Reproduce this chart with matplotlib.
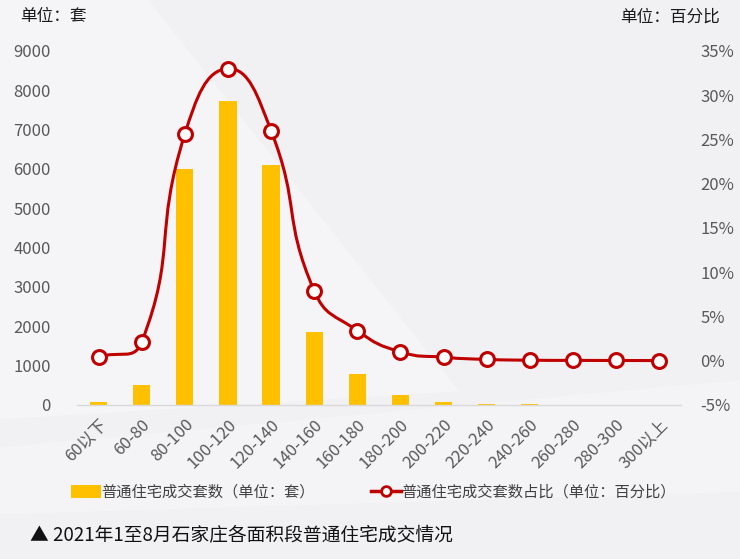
import matplotlib
matplotlib.use("Agg")
import matplotlib.pyplot as plt
import numpy as np
from matplotlib.path import Path
from matplotlib.patches import PathPatch, Polygon, Rectangle
from matplotlib.lines import Line2D

plt.rcParams['font.family'] = ['Noto Sans CJK SC', 'DejaVu Sans']

# data
categories = ['60以下', '60-80', '80-100', '100-120', '120-140', '140-160', '160-180',
              '180-200', '200-220', '220-240', '240-260', '260-280', '280-300', '300以上']
units = [80, 510, 6000, 7730, 6100, 1850, 790, 250, 80, 30, 15, 10, 10, 5]
share = [0.4, 2.1, 25.6, 33.0, 26.0, 7.9, 3.4, 1.0, 0.4, 0.15, 0.06, 0.04, 0.03, 0.02]

left_ticks = [0, 1000, 2000, 3000, 4000, 5000, 6000, 7000, 8000, 9000]
right_ticks = [-5, 0, 5, 10, 15, 20, 25, 30, 35]

bar_color = '#ffc000'
line_color = '#c00000'
tick_color = '#595959'

fig = plt.figure(figsize=(7.4, 5.59), dpi=100, facecolor='#f1f1f4')

# faint background shapes, behind everything
bg = fig.add_axes([0, 0, 1, 1], zorder=-10)
bg.set_axis_off()
bg.set_xlim(0, 1)
bg.set_ylim(0, 1)
bg.add_patch(Polygon([[0, 1], [0.2, 1], [0.62, 0.3], [0.0, 0.25]], closed=True,
                     facecolor='white', alpha=0.35, lw=0))
bg.add_patch(Polygon([[0.0, 0.2], [1, 0.32], [1, 0.12], [0.0, 0.08]], closed=True,
                     facecolor='white', alpha=0.25, lw=0))

ax = fig.add_axes([0.104, 0.2755, 0.816, 0.6333])
ax.patch.set_alpha(0)
x = np.arange(len(categories))
ax.bar(x, units, width=0.4, color=bar_color, zorder=2)
ax.set_xlim(-0.5, len(categories) - 0.5)
ax.set_ylim(0, 9000)
ax.set_yticks(left_ticks)
ax.set_yticklabels([str(v) for v in left_ticks])
ax.set_xticks(x)
ax.set_xticklabels(categories, rotation=45, ha='right', rotation_mode='anchor')
ax.tick_params(axis='x', length=0, pad=8, labelsize=12, labelcolor=tick_color)
ax.tick_params(axis='y', length=0, pad=19, labelsize=12, labelcolor=tick_color)
for s in ['top', 'right', 'left']:
    ax.spines[s].set_visible(False)
ax.spines['bottom'].set_color('#d9d9d9')
ax.spines['bottom'].set_linewidth(1)

ax2 = ax.twinx()
ax2.set_ylim(-5, 35)
ax2.set_yticks(right_ticks)
ax2.set_yticklabels([f'{v}%' for v in right_ticks])
ax2.tick_params(axis='y', length=0, pad=14, labelsize=12, labelcolor=tick_color)
for s in ax2.spines.values():
    s.set_visible(False)

# smooth line (echarts-like bezier control points, computed in display space)
fig.canvas.draw()
pts = ax2.transData.transform(np.column_stack([x, share]))
smooth = 0.5
n = len(pts)
cp_prev = np.zeros_like(pts)
cp_next = np.zeros_like(pts)
for i in range(n):
    p = pts[i]
    a = pts[i - 1] if i > 0 else p
    b = pts[i + 1] if i < n - 1 else p
    v = b - a
    d0 = np.hypot(*(p - a))
    d1 = np.hypot(*(b - p))
    tot = d0 + d1
    if tot == 0:
        cp_prev[i] = p
        cp_next[i] = p
        continue
    cp_prev[i] = p - v * smooth * d0 / tot
    cp_next[i] = p + v * smooth * d1 / tot
verts = [pts[0]]
codes = [Path.MOVETO]
for i in range(n - 1):
    verts += [cp_next[i], cp_prev[i + 1], pts[i + 1]]
    codes += [Path.CURVE4] * 3
verts = ax2.transData.inverted().transform(np.array(verts))
ax2.add_patch(PathPatch(Path(verts, codes), facecolor='none', edgecolor=line_color,
                        lw=2.2, zorder=3))
ax2.plot(x, share, linestyle='none', marker='o', markersize=10, markerfacecolor='white',
         markeredgecolor=line_color, markeredgewidth=2.2, zorder=4, clip_on=False)

# unit labels
fig.text(20 / 740, 1 - 17 / 559, '单位：套', fontsize=12, color='#1a1a1a', va='center', ha='left')
fig.text(720 / 740, 1 - 17 / 559, '单位：百分比', fontsize=12, color='#1a1a1a', va='center', ha='right')

# legend
bar_handle = Rectangle((0, 0), 1, 1, facecolor=bar_color, edgecolor='none')
line_handle = Line2D([], [], color=line_color, lw=2.5, marker='o', markersize=7,
                     markerfacecolor='white', markeredgecolor=line_color, markeredgewidth=2)
fig.legend([bar_handle], ['普通住宅成交套数（单位：套）'], loc='center left',
           bbox_to_anchor=(57 / 740, 1 - 492 / 559), frameon=False, fontsize=11,
           handlelength=2.0, handleheight=0.9, handletextpad=0.0, labelcolor='#404040')
fig.legend([line_handle], ['普通住宅成交套数占比（单位：百分比）'], loc='center left',
           bbox_to_anchor=(357 / 740, 1 - 492 / 559), frameon=False, fontsize=11,
           handlelength=2.0, handletextpad=0.0, labelcolor='#404040')

# caption
fig.text(30 / 740, 1 - 535 / 559, '▲ 2021年1至8月石家庄各面积段普通住宅成交情况',
         fontsize=13.5, color='#111111', va='center', ha='left')

fig.savefig('out.png', dpi=100, facecolor=fig.get_facecolor())
